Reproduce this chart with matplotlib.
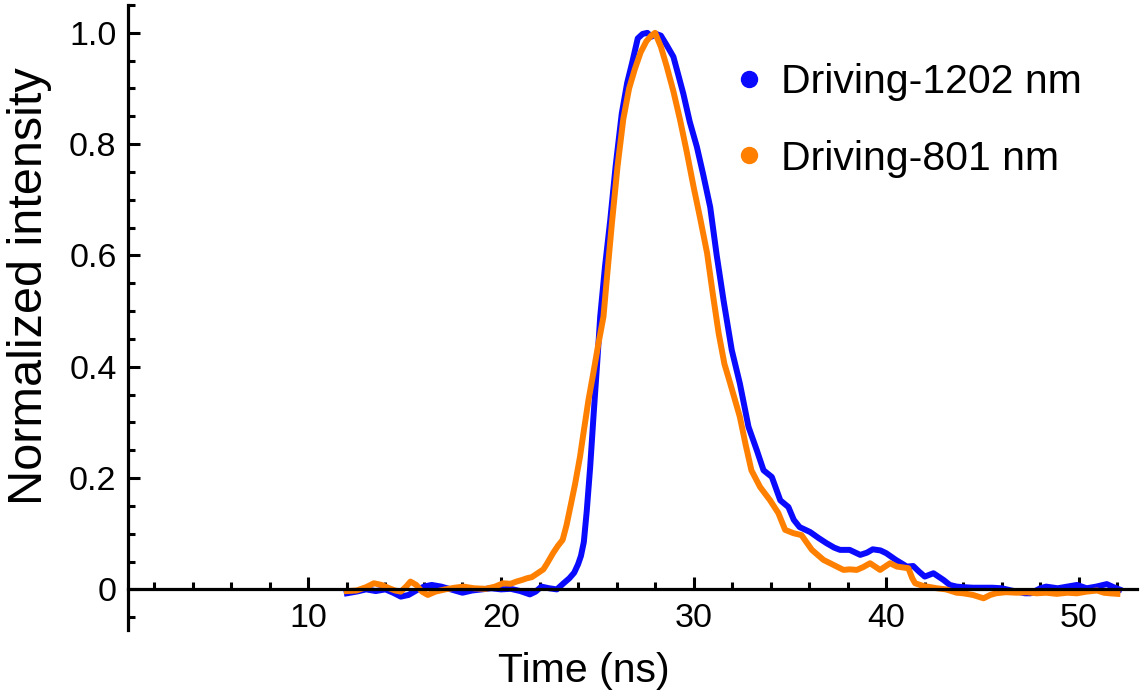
import numpy as np
import matplotlib
matplotlib.use('Agg')
import matplotlib.pyplot as plt
from matplotlib.lines import Line2D
from matplotlib.ticker import MultipleLocator, FuncFormatter

plt.rcParams['font.family'] = ['Liberation Sans', 'DejaVu Sans']

# pulse traces, time in ns, intensity normalized to peak
t_1202 = [12.0, 12.5, 13.0, 13.5, 14.0, 14.4, 14.8, 15.2, 15.6, 16.0, 16.4, 16.9, 17.4, 18.0,
          18.5, 19.0, 19.5, 20.0, 20.5, 21.0, 21.5, 21.8, 22.1, 22.5, 22.9, 23.25, 23.55, 23.8,
          24.0, 24.15, 24.3, 24.45, 24.63, 24.8, 25.0, 25.15, 25.4, 25.67, 25.95, 26.27, 26.55,
          26.8, 27.1, 27.35, 27.6, 27.8, 28.05, 28.3, 28.6, 28.95, 29.2, 29.47, 29.8, 30.17,
          30.5, 30.86, 31.2, 31.55, 31.98, 32.4, 32.85, 33.28, 33.63, 34.06, 34.5, 34.92, 35.2,
          35.5, 36.05, 36.5, 36.9, 37.3, 37.6, 38.1, 38.65, 39.0, 39.3, 39.7, 40.0, 40.5, 41.07,
          41.4, 41.7, 42.0, 42.45, 42.97, 43.3, 43.66, 44.0, 44.5, 45.0, 45.5, 46.0, 46.5, 46.8,
          47.2, 47.5, 48.0, 48.3, 48.9, 49.4, 49.9, 50.4, 50.9, 51.45, 51.8, 52.1]
i_1202 = [-0.007, -0.004, 0.0, -0.003, 0.0, -0.006, -0.013, -0.010, -0.002, 0.005, 0.008, 0.005,
          0.0, -0.006, -0.002, 0.0, 0.002, 0.0, 0.001, -0.003, -0.009, -0.004, 0.005, 0.002, 0.0,
          0.011, 0.02, 0.03, 0.045, 0.06, 0.085, 0.14, 0.22, 0.31, 0.41, 0.49, 0.58, 0.663, 0.76,
          0.855, 0.91, 0.945, 0.99, 0.998, 1.0, 0.993, 0.998, 0.995, 0.978, 0.957, 0.925, 0.89,
          0.84, 0.795, 0.745, 0.687, 0.6, 0.52, 0.43, 0.37, 0.292, 0.25, 0.214, 0.202, 0.16,
          0.148, 0.125, 0.112, 0.103, 0.092, 0.083, 0.075, 0.071, 0.071, 0.062, 0.066, 0.072,
          0.07, 0.065, 0.053, 0.041, 0.042, 0.032, 0.023, 0.029, 0.017, 0.008, 0.005, 0.004,
          0.003, 0.003, 0.003, 0.002, -0.002, -0.004, -0.007, -0.007, 0.002, 0.005, 0.002, 0.005,
          0.008, 0.002, 0.005, 0.0095, 0.004, 0.0]

t_801 = [12.0, 12.5, 13.0, 13.4, 13.8, 14.2, 14.5, 14.8, 15.1, 15.3, 15.6, 15.9, 16.2, 16.6, 17.1,
         17.6, 18.05, 18.6, 19.2, 19.7, 20.1, 20.5, 20.8, 21.1, 21.35, 21.6, 21.9, 22.2, 22.4,
         22.7, 22.95, 23.2, 23.4, 23.6, 23.85, 24.1, 24.3, 24.54, 24.8, 25.05, 25.32, 25.5, 25.75,
         26.05, 26.35, 26.65, 26.95, 27.25, 27.55, 27.8, 28.0, 28.3, 28.6, 28.95, 29.3, 29.65,
         30.0, 30.35, 30.7, 31.0, 31.3, 31.6, 31.9, 32.15, 32.4, 32.7, 33.0, 33.45, 33.97, 34.4,
         34.75, 35.18, 35.6, 36.14, 36.74, 37.26, 37.78, 38.1, 38.47, 38.8, 39.16, 39.68, 40.2,
         40.55, 41.15, 41.35, 41.5, 41.93, 42.3, 42.63, 43.1, 43.66, 44.0, 44.5, 45.05, 45.4,
         45.7, 46.2, 46.8, 47.3, 47.8, 48.3, 48.85, 49.4, 49.9, 50.4, 50.95, 51.3, 51.6, 52.0]
i_801 = [-0.003, -0.002, 0.004, 0.011, 0.008, 0.002, -0.002, -0.004, 0.006, 0.014, 0.008, -0.004,
         -0.01, -0.004, 0.0, 0.003, 0.005, 0.002, 0.001, 0.005, 0.011, 0.01, 0.014, 0.017, 0.02,
         0.022, 0.029, 0.036, 0.047, 0.065, 0.078, 0.089, 0.115, 0.148, 0.19, 0.238, 0.285, 0.34,
         0.39, 0.44, 0.49, 0.56, 0.655, 0.76, 0.845, 0.9, 0.935, 0.965, 0.985, 0.995, 1.0, 0.975,
         0.94, 0.895, 0.843, 0.785, 0.723, 0.665, 0.604, 0.53, 0.46, 0.405, 0.37, 0.34, 0.31, 0.26,
         0.214, 0.184, 0.16, 0.137, 0.107, 0.101, 0.0975, 0.071, 0.053, 0.044, 0.035, 0.036,
         0.035, 0.04, 0.047, 0.035, 0.047, 0.041, 0.038, 0.02, 0.011, 0.006, 0.004, 0.002, 0.0,
         -0.006, -0.007, -0.01, -0.016, -0.01, -0.007, -0.005, -0.006, -0.005, -0.007, -0.006,
         -0.008, -0.006, -0.007, -0.004, -0.002, -0.006, -0.007, -0.008]

labels = ['Driving-1202 nm', 'Driving-801 nm']
colors = ['#0a0aff', '#ff8000']

fig = plt.figure(figsize=(11.41, 6.95), dpi=100)
ax = fig.add_axes([0.1119, 0.0935, 0.8843, 0.8993])

ax.plot(t_1202, i_1202, color=colors[0], lw=4.3, solid_joinstyle='round', zorder=3)
ax.plot(t_801, i_801, color=colors[1], lw=4.3, solid_joinstyle='round', zorder=4)

ax.set_xlim(0.62, 53.0)
ax.set_ylim(-0.073, 1.05)

# axes through the origin, Mathematica style
for s in ['top', 'right']:
    ax.spines[s].set_visible(False)
ax.spines['bottom'].set_position(('data', 0))
for s in ['left', 'bottom']:
    ax.spines[s].set_linewidth(2.3)
    ax.spines[s].set_zorder(5)

ax.xaxis.set_major_locator(MultipleLocator(10))
ax.xaxis.set_minor_locator(MultipleLocator(2))
ax.yaxis.set_major_locator(MultipleLocator(0.2))
ax.yaxis.set_minor_locator(MultipleLocator(0.05))
ax.xaxis.set_major_formatter(FuncFormatter(lambda v, p: '' if v <= 0 else '%d' % v))
ax.yaxis.set_major_formatter(FuncFormatter(lambda v, p: '0' if abs(v) < 1e-9 else '%.1f' % v))

ax.tick_params(which='both', direction='in', width=2.2, labelsize=24.5)
ax.tick_params(which='major', length=8.6)
ax.tick_params(which='minor', length=5)
ax.tick_params(axis='x', pad=9.5)
ax.tick_params(axis='y', pad=8)

ax.set_xlabel('Time (ns)', fontsize=29.5)
ax.set_ylabel('Normalized intensity', fontsize=35)
ax.xaxis.set_label_coords(0.4522, -0.0352)
ax.yaxis.set_label_coords(-0.075, 0.5504)

handles = [Line2D([], [], ls='', marker='o', ms=11.5, color=c) for c in colors]
ax.legend(handles, labels, loc='upper left', bbox_to_anchor=(0.583, 0.94), frameon=False,
          fontsize=29.5, handlelength=0.6, handletextpad=0.48, labelspacing=0.94, borderpad=0)

plt.savefig('out.png', dpi=100)
